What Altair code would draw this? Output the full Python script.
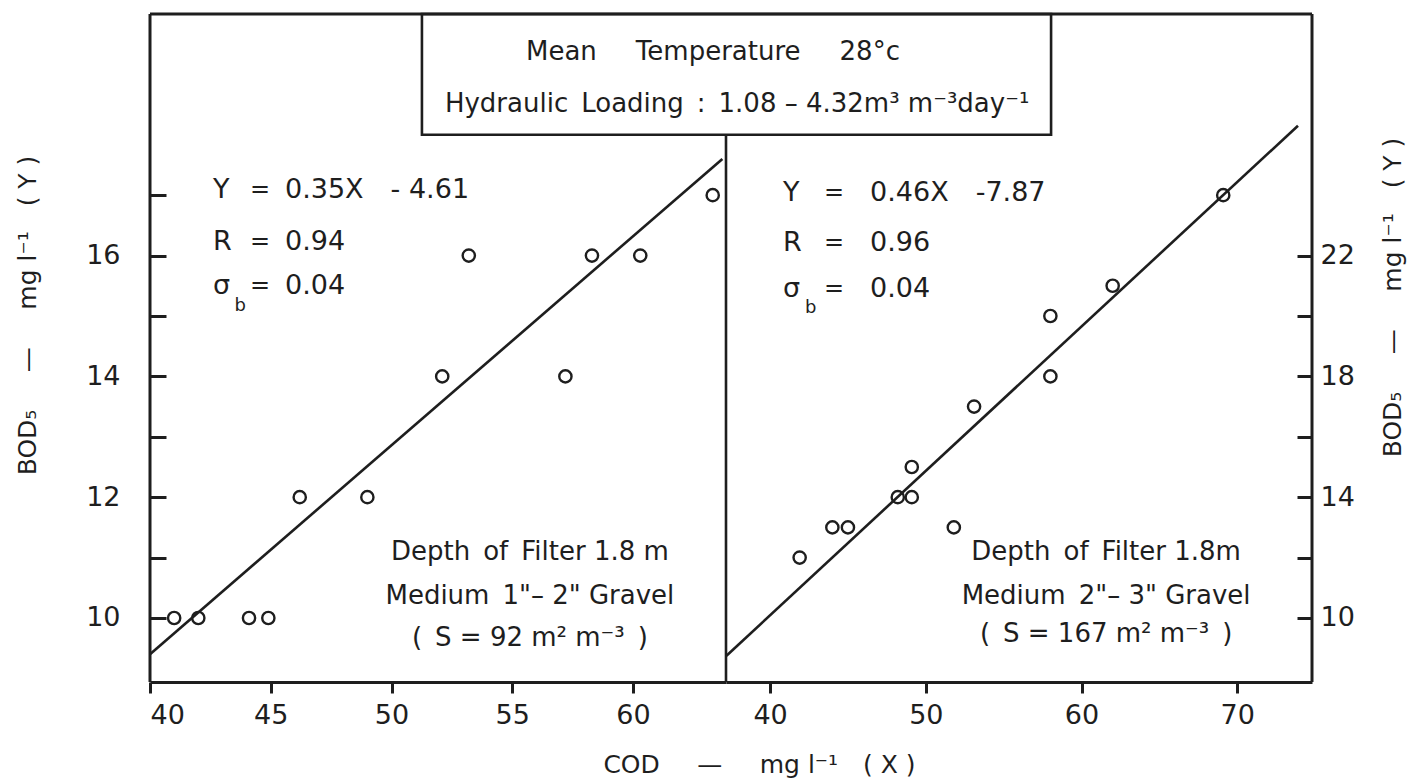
import altair as alt
import pandas as pd

# ---------------- data ----------------
left_cod = [41.0, 42.0, 44.1, 44.9, 46.2, 49.0, 52.1, 53.2, 57.2, 58.3, 60.3, 63.3]
left_bod = [10, 10, 10, 10, 12, 12, 14, 16, 14, 16, 16, 17]
right_cod = [41.9, 44.0, 45.0, 48.2, 49.1, 49.1, 51.8, 53.1, 58.0, 58.0, 62.0, 69.1]
right_bod = [12, 13, 13, 14, 14, 15, 13, 17, 18, 20, 21, 24]

# regression lines as drawn (end points)
left_fit_cod = [40.0, 63.7]
left_fit_bod = [9.4, 17.6]
right_fit_cod = [37.2, 73.9]
right_fit_bod = [8.75, 26.3]

left_x_ticks = [40, 45, 50, 55, 60]
right_x_ticks = [40, 50, 60, 70]
left_y_ticks = [10, 11, 12, 13, 14, 15, 16, 17]
right_y_ticks = [10, 12, 14, 16, 18, 20, 22]

S = "\u2002"  # wide space (SVG collapses ordinary repeated spaces)
eq_labels = ["Y", "R", "σ"]
left_eq_values = ["0.35X" + S + S + "- 4.61", "0.94", "0.04"]
right_eq_values = ["0.46X" + S + S + "-7.87", "0.96", "0.04"]
left_note = ["Depth" + S + "of" + S + "Filter 1.8 m",
             "Medium" + S + "1\"– 2\" Gravel",
             "(" + S + "S = 92 m² m⁻³" + S + ")"]
right_note = ["Depth" + S + "of" + S + "Filter 1.8m",
              "Medium" + S + "2\"– 3\" Gravel",
              "(" + S + "S = 167 m² m⁻³" + S + ")"]
box_lines = ["Mean" + S + S + S + "Temperature" + S + S + S + "28°c",
             "Hydraulic" + S + "Loading" + S + "꞉" + S + "1.08 – 4.32m³ m⁻³day⁻¹"]
x_title = "COD" + S + S + S + "—" + S + S + S + "mg l⁻¹" + S + S + "( X )"
y_title = "BOD₅" + S + S + S + "—" + S + S + S + "mg l⁻¹" + S + S + "( Y )"

# ---------------- layout ----------------
INK = "#1e1e1e"
FONT = "DejaVu Sans"
W_LEFT, W, H = 576, 1162, 668
LX, LY = [40.0, 63.85], [8.94, 20.0]
RX, RY = [37.17, 74.8], [7.88, 30.0]

lxs = alt.Scale(domain=LX, range=[0, W_LEFT], nice=False, zero=False)
lys = alt.Scale(domain=LY, nice=False, zero=False)
rxs = alt.Scale(domain=RX, range=[W_LEFT, W], nice=False, zero=False)
rys = alt.Scale(domain=RY, nice=False, zero=False)


def lx(field, **kw):
    return alt.X(field, type="quantitative", scale=lxs, axis=None, **kw)


def ly(field, **kw):
    return alt.Y(field, type="quantitative", scale=lys, axis=None, **kw)


def rx(field, **kw):
    return alt.X(field, type="quantitative", scale=rxs, axis=None, **kw)


def ry(field, **kw):
    return alt.Y(field, type="quantitative", scale=rys, axis=None, **kw)


def txt(df, xenc, yenc, size, align):
    return alt.Chart(df).mark_text(
        font=FONT, fontSize=size, color=INK, align=align, baseline="middle"
    ).encode(x=xenc("x"), y=yenc("y"), text="t:N")


# ---------------- left panel ----------------
df_l = pd.DataFrame({"cod": left_cod, "bod": left_bod})
pts_l = alt.Chart(df_l).mark_point(
    shape="circle", filled=False, size=150, strokeWidth=2.4, color=INK, opacity=1
).encode(
    x=alt.X("cod:Q", scale=lxs, axis=alt.Axis(
        values=left_x_ticks, orient="bottom", tickSize=11, labelPadding=9,
        title=x_title, titleX=609, titleY=82,
        titleBaseline="middle", titleAlign="center")),
    y=alt.Y("bod:Q", scale=lys, axis=alt.Axis(
        values=left_y_ticks, orient="left", offset=-16, tickSize=16, domain=False,
        labelPadding=30, labelExpr="datum.value % 2 == 0 ? datum.label : ''",
        title=y_title, titleX=-139, titleY=301, titleAngle=270,
        titleBaseline="middle", titleAlign="center")),
)

fit_l = alt.Chart(pd.DataFrame({"cod": left_fit_cod, "bod": left_fit_bod})).mark_line(
    color=INK, strokeWidth=2.6).encode(x=lx("cod"), y=ly("bod"))

edge_l = alt.Chart(pd.DataFrame({"x": [LX[0]]})).mark_rule(color=INK, strokeWidth=3).encode(x=lx("x"))
top_l = alt.Chart(pd.DataFrame({"y": [LY[1]]})).mark_rule(color=INK, strokeWidth=3).encode(y=ly("y"))
divider = alt.Chart(pd.DataFrame({"x": [LX[1]], "y": [LY[0]], "y2": [18.0]})).mark_rule(
    color=INK, strokeWidth=2.6).encode(x=lx("x"), y=ly("y"), y2="y2:Q")
box = alt.Chart(pd.DataFrame({"x": [51.26], "x2": [77.31], "y": [18.0], "y2": [LY[1]]})).mark_rect(
    fillOpacity=0, stroke=INK, strokeWidth=2.6).encode(x=lx("x"), x2="x2:Q", y=ly("y"), y2="y2:Q")

box_txt = txt(pd.DataFrame({"x": [63.31, 64.31], "y": [19.37, 18.51], "t": box_lines}), lx, ly, 26, "center")

eq_rows_l = [17.09, 16.23, 15.49]
eqlab_l = txt(pd.DataFrame({"x": [42.61] * 3, "y": eq_rows_l, "t": eq_labels}), lx, ly, 27, "left")
eqeq_l = txt(pd.DataFrame({"x": [44.14] * 3, "y": eq_rows_l, "t": ["="] * 3}), lx, ly, 24, "left")
eqval_l = txt(pd.DataFrame({"x": [45.59] * 3, "y": eq_rows_l, "t": left_eq_values}), lx, ly, 27, "left")
sub_l = txt(pd.DataFrame({"x": [43.5], "y": [15.17], "t": ["b"]}), lx, ly, 18, "left")
note_l = txt(pd.DataFrame({"x": [55.73] * 3, "y": [11.09, 10.36, 9.67], "t": left_note}), lx, ly, 26, "center")

# ---------------- right panel ----------------
df_r = pd.DataFrame({"cod": right_cod, "bod": right_bod})
pts_r = alt.Chart(df_r).mark_point(
    shape="circle", filled=False, size=150, strokeWidth=2.4, color=INK, opacity=1
).encode(
    x=alt.X("cod:Q", scale=rxs, axis=alt.Axis(
        values=right_x_ticks, orient="bottom", tickSize=11, labelPadding=9, title=None)),
    y=alt.Y("bod:Q", scale=rys, axis=alt.Axis(
        values=right_y_ticks, orient="right", offset=-15, tickSize=15, domain=False,
        labelPadding=8, labelExpr="(datum.value - 10) % 4 == 0 ? datum.label : ''",
        title=y_title, titleX=95, titleY=283, titleAngle=270,
        titleBaseline="middle", titleAlign="center")),
)

fit_r = alt.Chart(pd.DataFrame({"cod": right_fit_cod, "bod": right_fit_bod})).mark_line(
    color=INK, strokeWidth=2.6).encode(x=rx("cod"), y=ry("bod"))
edge_r = alt.Chart(pd.DataFrame({"x": [RX[1]]})).mark_rule(color=INK, strokeWidth=3).encode(x=rx("x"))

eq_rows_r = [24.07, 22.43, 20.89]
eqlab_r = txt(pd.DataFrame({"x": [40.83] * 3, "y": eq_rows_r, "t": eq_labels}), rx, ry, 27, "left")
eqeq_r = txt(pd.DataFrame({"x": [43.47] * 3, "y": eq_rows_r, "t": ["="] * 3}), rx, ry, 24, "left")
eqval_r = txt(pd.DataFrame({"x": [46.42] * 3, "y": eq_rows_r, "t": right_eq_values}), rx, ry, 27, "left")
sub_r = txt(pd.DataFrame({"x": [42.25], "y": [20.26], "t": ["b"]}), rx, ry, 18, "left")
note_r = txt(pd.DataFrame({"x": [61.58] * 3, "y": [12.2, 10.72, 9.48], "t": right_note}), rx, ry, 26, "center")

chart = alt.layer(
    pts_l, fit_l, edge_l, top_l, divider, box, box_txt,
    eqlab_l, eqeq_l, eqval_l, sub_l, note_l,
    pts_r, fit_r, edge_r, eqlab_r, eqeq_r, eqval_r, sub_r, note_r,
).resolve_scale(x="independent", y="independent").properties(
    width=W, height=H,
    autosize=alt.AutoSizeParams(type="none"),
    padding={"left": 150, "top": 14, "right": 1416 - 150 - W, "bottom": 782 - 14 - H},
    background="white",
).configure_view(strokeWidth=0).configure_axis(
    grid=False,
    labelFont=FONT, labelFontSize=27, labelColor=INK,
    titleFont=FONT, titleFontSize=25, titleColor=INK, titleFontWeight="normal",
    tickColor=INK, tickWidth=3, domainColor=INK, domainWidth=3,
)

chart.save("out.html", embed_options={"renderer": "svg", "actions": False})
